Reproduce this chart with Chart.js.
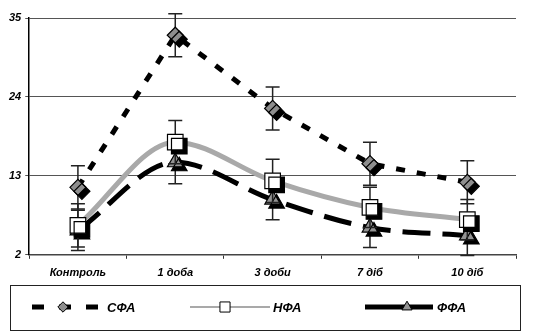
<!DOCTYPE html>
<html>
<head>
<meta charset="utf-8">
<script src="https://cdn.jsdelivr.net/npm/chart.js@4"></script>
<style>
  html, body { margin: 0; padding: 0; background: #fff; }
  #wrap { width: 534px; height: 333px; position: relative; }
</style>
</head>
<body>
<div id="wrap"><canvas id="chart" width="534" height="333"></canvas></div>
<script>
// дані з графіка
const categories = ['Контроль', '1 доба', '3 доби', '7 діб', '10 діб'];
const sfa = [11.4, 32.6, 22.4, 14.7, 12.1];
const nfa = [6.1, 17.7, 12.3, 8.6, 6.9];
const ffa = [5.4, 14.9, 9.7, 5.8, 4.7];
const sfaErr = [3, 3, 3, 3, 3];
const nfaErr = [3, 3, 3, 2.8, 2.8];
const ffaErr = [2.8, 3, 2.8, 2.8, 2.8];
const yTicks = [2, 13, 24, 35];

const FONT = '"Liberation Sans", Arial, sans-serif';

const series = [
    { label: 'СФА', data: sfa, err: sfaErr, line: '#000', dash: [9, 12], tension: 0, point: 'rectRot', r: 8, fill: '#8e8e8e' },
    { label: 'НФА', data: nfa, err: nfaErr, line: '#a9a9a9', dash: [], tension: 0.4, point: 'rect', r: 11, fill: '#fff' },
    { label: 'ФФА', data: ffa, err: ffaErr, line: '#000', dash: [28, 12], tension: 0.4, point: 'triangle', r: 9, fill: '#939393' }
];

const datasets = [];
series.forEach(s => {
    // лінія
    datasets.push({
        label: s.label, data: s.data, order: 2,
        borderColor: s.line, borderWidth: 5, borderDash: s.dash,
        tension: s.tension, cubicInterpolationMode: s.tension ? 'monotone' : 'default',
        pointRadius: 0, fill: false
    });
});
series.forEach((s, i) => {
    // маркери з тінню
    datasets.push({
        label: s.label + '_pts', data: s.data, order: 1, showLine: false,
        pointStyle: s.point, pointRadius: s.r, pointHoverRadius: s.r,
        pointBackgroundColor: s.fill, pointBorderColor: '#000', pointBorderWidth: 1.2,
        seriesIndex: i
    });
});

const errorBarsAndShadow = {
    id: 'errorBarsAndShadow',
    beforeDatasetDraw(chart, args) {
        const ds = chart.data.datasets[args.index];
        if (ds.seriesIndex === undefined) return;
        const s = series[ds.seriesIndex];
        const ctx = chart.ctx;
        const y = chart.scales.y;
        ctx.save();
        ctx.strokeStyle = '#222';
        ctx.lineWidth = 1.5;
        args.meta.data.forEach((pt, j) => {
            const top = y.getPixelForValue(s.data[j] + s.err[j]);
            const bot = y.getPixelForValue(s.data[j] - s.err[j]);
            ctx.beginPath();
            ctx.moveTo(pt.x, top); ctx.lineTo(pt.x, bot);
            ctx.moveTo(pt.x - 7, top); ctx.lineTo(pt.x + 7, top);
            ctx.moveTo(pt.x - 7, bot); ctx.lineTo(pt.x + 7, bot);
            ctx.stroke();
        });
        ctx.restore();
        ctx.save();
        ctx.shadowColor = '#000';
        ctx.shadowOffsetX = 4;
        ctx.shadowOffsetY = 4;
        ctx.shadowBlur = 0;
    },
    afterDatasetDraw(chart, args) {
        const ds = chart.data.datasets[args.index];
        if (ds.seriesIndex === undefined) return;
        chart.ctx.restore();
    }
};

const boxLegend = {
    id: 'boxLegend',
    afterDraw(chart) {
        const ctx = chart.ctx;
        ctx.save();
        ctx.strokeStyle = '#222';
        ctx.lineWidth = 1;
        ctx.strokeRect(10.5, 285.5, 510, 45);
        const cy = 307;
        const items = [
            { s: series[0], x1: 32, x2: 100, mx: 63, tx: 107 },
            { s: series[1], x1: 190, x2: 270, mx: 225, tx: 273 },
            { s: series[2], x1: 365, x2: 433, mx: 407, tx: 437 }
        ];
        items.forEach(it => {
            ctx.save();
            ctx.strokeStyle = it.s.line;
            ctx.lineWidth = it.s.label === 'НФА' ? 2 : 5;
            ctx.setLineDash(it.s.label === 'СФА' ? [12, 15] : []);
            ctx.beginPath();
            ctx.moveTo(it.x1, cy); ctx.lineTo(it.x2, cy);
            ctx.stroke();
            ctx.restore();
            ctx.fillStyle = it.s.fill;
            ctx.strokeStyle = '#000';
            ctx.lineWidth = 1;
            Chart.helpers.drawPoint(ctx, { pointStyle: it.s.point, radius: it.s.r * 0.65, borderWidth: 1 }, it.mx, cy);
            ctx.fillStyle = '#000';
            ctx.font = 'italic bold 13px ' + FONT;
            ctx.textBaseline = 'middle';
            ctx.fillText(it.s.label, it.tx, cy + 1);
        });
        ctx.restore();
    }
};

new Chart(document.getElementById('chart'), {
    type: 'line',
    data: { labels: categories, datasets },
    options: {
        responsive: false,
        animation: false,
        layout: { padding: { top: 18, right: 18, bottom: 45, left: 5 } },
        plugins: { legend: { display: false }, tooltip: { enabled: false } },
        scales: {
            x: {
                offset: true,
                grid: { display: true, drawOnChartArea: false, offset: true, tickLength: 4, color: '#333' },
                border: { color: '#444', width: 1.5, dash: [4, 2] },
                ticks: { color: '#000', padding: 8, font: { family: FONT, size: 11, weight: 'bold', style: 'italic' } }
            },
            y: {
                min: 2, max: 35,
                afterBuildTicks(scale) { scale.ticks = yTicks.map(v => ({ value: v })); },
                grid: { color: '#555', lineWidth: 1, drawTicks: true, tickLength: 4 },
                border: { color: '#000', width: 1.5 },
                ticks: { color: '#000', padding: 4, font: { family: FONT, size: 11, weight: 'bold', style: 'italic' } }
            }
        }
    },
    plugins: [errorBarsAndShadow, boxLegend]
});
</script>
</body>
</html>
